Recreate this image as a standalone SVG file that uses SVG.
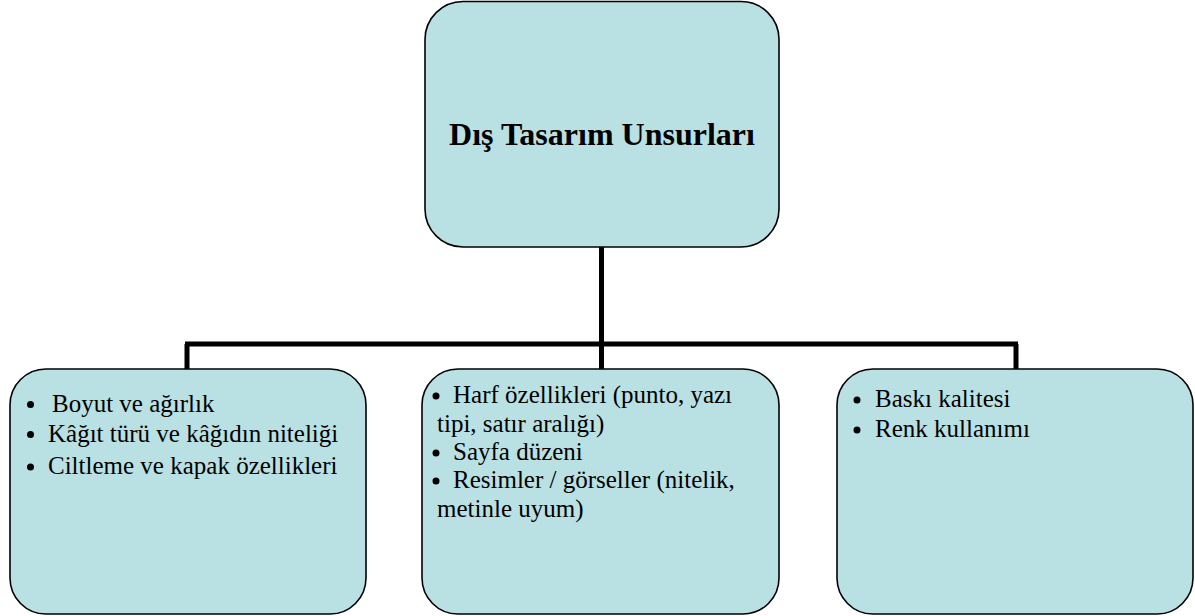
<svg xmlns="http://www.w3.org/2000/svg" width="1195" height="616" viewBox="0 0 1195 616">
<style>
.box{fill:#b9e0e3;stroke:#000;stroke-width:1.6}
.t{font-family:"Liberation Serif","Times New Roman",Times,serif;font-size:25px;fill:#000}
.title{font-family:"Liberation Serif","Times New Roman",Times,serif;font-size:32px;font-weight:bold;fill:#000}
.conn{fill:none;stroke:#000;stroke-width:5}
</style>
<rect width="1195" height="616" fill="#fff"/>
<g id="connectors">
<path class="conn" d="M601.5 247 V348"/>
<path class="conn" d="M185 344 H1018"/>
<path class="conn" d="M187 344 V370"/>
<path class="conn" d="M601.5 344 V370"/>
<path class="conn" d="M1016 344 V370"/>
</g>
<g id="root">
<rect class="box" x="425" y="1.5" width="354" height="245.5" rx="38" ry="38"/>
<text class="title" x="602" y="145" text-anchor="middle">Dış Tasarım Unsurları</text>
</g>
<g id="left">
<rect class="box" x="10" y="369" width="356" height="245" rx="36" ry="36"/>
<circle cx="30.5" cy="404.5" r="3.5"/>
<text class="t" x="52" y="412">Boyut ve ağırlık</text>
<circle cx="30.5" cy="434.5" r="3.5"/>
<text class="t" x="48" y="442">Kâğıt türü ve kâğıdın niteliği</text>
<circle cx="30.5" cy="467" r="3.5"/>
<text class="t" x="48" y="474">Ciltleme ve kapak özellikleri</text>
</g>
<g id="middle">
<rect class="box" x="422" y="369" width="357" height="245" rx="36" ry="36"/>
<circle cx="436" cy="396" r="3.5"/>
<text class="t" x="453" y="403">Harf özellikleri (punto, yazı</text>
<text class="t" x="437" y="432">tipi, satır aralığı)</text>
<circle cx="436" cy="453" r="3.5"/>
<text class="t" x="453" y="460">Sayfa düzeni</text>
<circle cx="436" cy="481" r="3.5"/>
<text class="t" x="453" y="488">Resimler / görseller (nitelik,</text>
<text class="t" x="437" y="517">metinle uyum)</text>
</g>
<g id="right">
<rect class="box" x="837" y="369" width="356" height="245" rx="36" ry="36"/>
<circle cx="857" cy="400" r="3.5"/>
<text class="t" x="875" y="407">Baskı kalitesi</text>
<circle cx="857" cy="430" r="3.5"/>
<text class="t" x="875" y="437">Renk kullanımı</text>
</g>
</svg>
